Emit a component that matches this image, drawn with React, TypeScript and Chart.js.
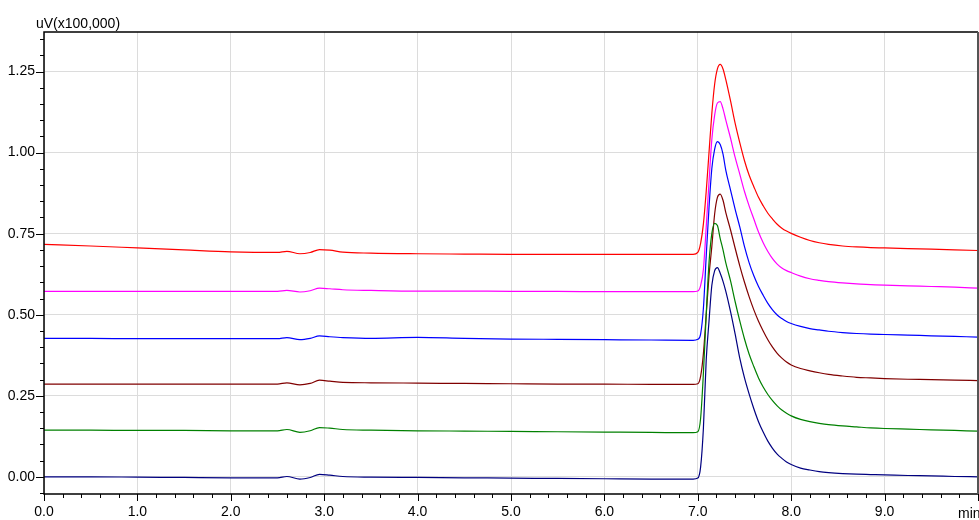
import React, { useEffect, useRef } from "react";
import { Chart, registerables } from "chart.js";
Chart.register(...registerables);

// retention time (min)
const times = [
  0, 0.5, 1.0, 1.5, 2.0, 2.5, 2.6, 2.74, 2.85, 2.95, 3.06, 3.2, 3.5, 4.0, 4.5, 5.0, 5.5, 6.0, 6.5, 6.95,
  7.0, 7.03, 7.06, 7.09, 7.12, 7.15, 7.18, 7.21, 7.24, 7.27, 7.3,
  7.35, 7.4, 7.45, 7.5, 7.55, 7.6, 7.65, 7.7, 7.75, 7.8, 7.85, 7.9, 7.95,
  8.0, 8.1, 8.2, 8.3, 8.4, 8.55, 8.7, 8.85, 9.0, 9.25, 9.5, 9.75, 10.0,
];

// signals in uV (x100,000)
const redTrace = [
  0.717, 0.712, 0.706, 0.7, 0.694, 0.692, 0.6955, 0.688, 0.692, 0.701, 0.699, 0.693, 0.69, 0.688, 0.687, 0.686, 0.686, 0.686, 0.686, 0.686,
  0.692, 0.72, 0.78, 0.88, 1.0, 1.12, 1.21, 1.258, 1.272, 1.258, 1.225,
  1.16, 1.09, 1.03, 0.975, 0.93, 0.895, 0.862, 0.836, 0.813, 0.795, 0.779, 0.767, 0.758,
  0.751, 0.739, 0.729, 0.722, 0.717, 0.712, 0.709, 0.707, 0.706, 0.704, 0.702, 0.7, 0.698,
];
const magentaTrace = [
  0.572, 0.572, 0.572, 0.572, 0.572, 0.572, 0.575, 0.57, 0.574, 0.582, 0.58, 0.577, 0.575, 0.573, 0.573, 0.572, 0.572, 0.571, 0.571, 0.571,
  0.573, 0.59, 0.64, 0.77, 0.91, 1.04, 1.115, 1.153, 1.157, 1.135, 1.1,
  1.045, 0.985, 0.933, 0.88, 0.835, 0.795, 0.755, 0.722, 0.695, 0.673, 0.656, 0.644, 0.636,
  0.63, 0.619, 0.611, 0.606, 0.602, 0.598, 0.595, 0.593, 0.591, 0.589, 0.587, 0.585, 0.582,
];
const blueTrace = [
  0.427, 0.427, 0.426, 0.426, 0.426, 0.426, 0.4295, 0.423, 0.427, 0.4345, 0.432, 0.4295, 0.427, 0.43, 0.427, 0.425, 0.424, 0.423, 0.422, 0.421,
  0.424, 0.44, 0.52, 0.68, 0.83, 0.95, 1.01, 1.034, 1.025, 0.995, 0.945,
  0.885, 0.825, 0.77, 0.71, 0.66, 0.62, 0.587, 0.56, 0.535, 0.515, 0.499, 0.488, 0.479,
  0.473, 0.464, 0.457, 0.453, 0.449, 0.445, 0.442, 0.44, 0.439, 0.437, 0.435, 0.433, 0.431,
];
const maroonTrace = [
  0.286, 0.286, 0.286, 0.286, 0.286, 0.286, 0.29, 0.2835, 0.288, 0.298, 0.295, 0.291, 0.29, 0.289, 0.288, 0.287, 0.286, 0.286, 0.285, 0.285,
  0.287, 0.31, 0.38, 0.5, 0.62, 0.71, 0.81, 0.862, 0.872, 0.853, 0.815,
  0.762, 0.705, 0.65, 0.6, 0.555, 0.515, 0.48, 0.45, 0.423, 0.4, 0.381, 0.366, 0.354,
  0.345, 0.334, 0.327, 0.321, 0.316, 0.311, 0.307, 0.305, 0.303, 0.301, 0.3, 0.298, 0.297,
];
const greenTrace = [
  0.144, 0.144, 0.143, 0.143, 0.142, 0.142, 0.146, 0.137, 0.142, 0.152, 0.15, 0.146, 0.144, 0.142, 0.141, 0.14, 0.139, 0.138, 0.137, 0.136,
  0.139, 0.18, 0.32, 0.5, 0.66, 0.75, 0.782, 0.775, 0.735, 0.7, 0.66,
  0.605, 0.54, 0.48, 0.425, 0.378, 0.34, 0.305, 0.277, 0.254, 0.235, 0.219, 0.206, 0.196,
  0.188, 0.177, 0.17, 0.165, 0.161, 0.157, 0.154, 0.151, 0.149, 0.147, 0.145, 0.143, 0.141,
];
const navyTrace = [
  0.0, 0.0, -0.001, -0.002, -0.003, -0.003, 0.001, -0.007, -0.002, 0.0075, 0.005, 0.001, -0.001, -0.002, -0.003, -0.004, -0.005, -0.006, -0.007, -0.007,
  -0.004, 0.03, 0.15, 0.36, 0.48, 0.59, 0.635, 0.645, 0.628, 0.603, 0.572,
  0.51, 0.44, 0.365, 0.305, 0.255, 0.21, 0.17, 0.138, 0.11, 0.088, 0.07, 0.057, 0.046,
  0.038, 0.027, 0.021, 0.016, 0.013, 0.01, 0.008, 0.007, 0.006, 0.004, 0.003, 0.001, 0.0,
];

const xTickValues = [0, 1, 2, 3, 4, 5, 6, 7, 8, 9, 10];
const yTickValues = [0, 0.25, 0.5, 0.75, 1.0, 1.25];
const yUnitLabel = "uV(x100,000)";
const xUnitLabel = "min";

const FONT = "'Liberation Sans', Arial, sans-serif";

const framePlugin = {
  id: "frame",
  afterDraw(chart: any) {
    const { ctx, chartArea: a, scales } = chart;
    const xs = scales.x;
    const ys = scales.y;
    ctx.save();
    ctx.strokeStyle = "#000";
    ctx.lineWidth = 1;
    // x ticks (major every 1, minor every 0.2)
    for (let i = 0; i <= 50; i++) {
      const v = i * 0.2;
      const px = Math.round(xs.getPixelForValue(v)) + 0.5;
      const len = i % 5 === 0 ? 7 : 4;
      ctx.beginPath();
      ctx.moveTo(px, a.bottom);
      ctx.lineTo(px, a.bottom + len);
      ctx.stroke();
    }
    // y ticks (major every 0.25, minor every 0.05)
    for (let i = -1; i <= 27; i++) {
      const v = i * 0.05;
      const py = Math.round(ys.getPixelForValue(v)) + 0.5;
      if (py < a.top || py > a.bottom) continue;
      const len = i % 5 === 0 ? 8 : 4;
      ctx.beginPath();
      ctx.moveTo(a.left, py);
      ctx.lineTo(a.left - len, py);
      ctx.stroke();
    }
    // frame
    ctx.lineWidth = 1.5;
    ctx.strokeStyle = "#000";
    ctx.beginPath();
    ctx.moveTo(a.right, a.top);
    ctx.lineTo(a.left, a.top);
    ctx.lineTo(a.left, a.bottom);
    ctx.lineTo(a.right, a.bottom);
    ctx.stroke();
    ctx.strokeStyle = "#555";
    ctx.lineWidth = 2;
    ctx.beginPath();
    ctx.moveTo(a.right, a.top);
    ctx.lineTo(a.right, a.bottom);
    ctx.stroke();
    // unit labels
    ctx.fillStyle = "#000";
    ctx.font = `14px ${FONT}`;
    ctx.textAlign = "left";
    ctx.textBaseline = "alphabetic";
    ctx.fillText(yUnitLabel, 36, 27.5);
    ctx.fillText(xUnitLabel, a.right - 20, 517.5);
    ctx.restore();
  },
};

export default function App() {
  const ref = useRef<HTMLCanvasElement | null>(null);
  useEffect(() => {
    if (!ref.current) return;
    const mk = (arr: number[]) => times.map((t, i) => ({ x: t, y: arr[i] }));
    const series = [
      { label: "Trace 1", data: navyTrace, color: "#000080" },
      { label: "Trace 2", data: greenTrace, color: "#008000" },
      { label: "Trace 3", data: maroonTrace, color: "#800000" },
      { label: "Trace 4", data: blueTrace, color: "#0000FF" },
      { label: "Trace 5", data: magentaTrace, color: "#FF00FF" },
      { label: "Trace 6", data: redTrace, color: "#FF0000" },
    ];
    const chart = new Chart(ref.current, {
      type: "line",
      data: {
        datasets: series.map((s) => ({
          label: s.label,
          data: mk(s.data),
          borderColor: s.color,
          backgroundColor: s.color,
          borderWidth: 1.2,
          pointRadius: 0,
          cubicInterpolationMode: "monotone" as const,
          fill: false,
        })),
      },
      options: {
        responsive: false,
        animation: false,
        layout: { padding: { top: 32, right: 1, left: 0, bottom: 0 } },
        plugins: { legend: { display: false }, tooltip: { enabled: false }, title: { display: false } },
        scales: {
          x: {
            type: "linear",
            min: 0,
            max: 10,
            afterBuildTicks: (s: any) => {
              s.ticks = xTickValues.map((v) => ({ value: v }));
            },
            afterFit: (s: any) => {
              s.height = 26;
              s.paddingLeft = 0;
              s.paddingRight = 0;
            },
            ticks: {
              autoSkip: false,
              maxRotation: 0,
              padding: 10,
              color: "#000",
              font: { family: FONT, size: 14 },
              callback: (v: any) => (Number(v) >= 10 ? "" : Number(v).toFixed(1)),
            },
            grid: { color: "#dcdcdc", drawTicks: false, lineWidth: 1 },
            border: { display: false },
          },
          y: {
            type: "linear",
            min: -0.053,
            max: 1.372,
            afterBuildTicks: (s: any) => {
              s.ticks = yTickValues.map((v) => ({ value: v }));
            },
            afterFit: (s: any) => {
              s.width = 44;
              s.paddingTop = 0;
              s.paddingBottom = 0;
            },
            ticks: {
              autoSkip: false,
              padding: 9,
              color: "#000",
              font: { family: FONT, size: 14 },
              callback: (v: any) => Number(v).toFixed(2),
            },
            grid: { color: "#dcdcdc", drawTicks: false, lineWidth: 1 },
            border: { display: false },
          },
        },
      },
      plugins: [framePlugin],
    });
    return () => chart.destroy();
  }, []);
  return (
    <div style={{ position: "absolute", left: 0, top: 0, width: 979, height: 520, background: "#fff" }}>
      <canvas ref={ref} width={979} height={520} style={{ display: "block" }} />
    </div>
  );
}
